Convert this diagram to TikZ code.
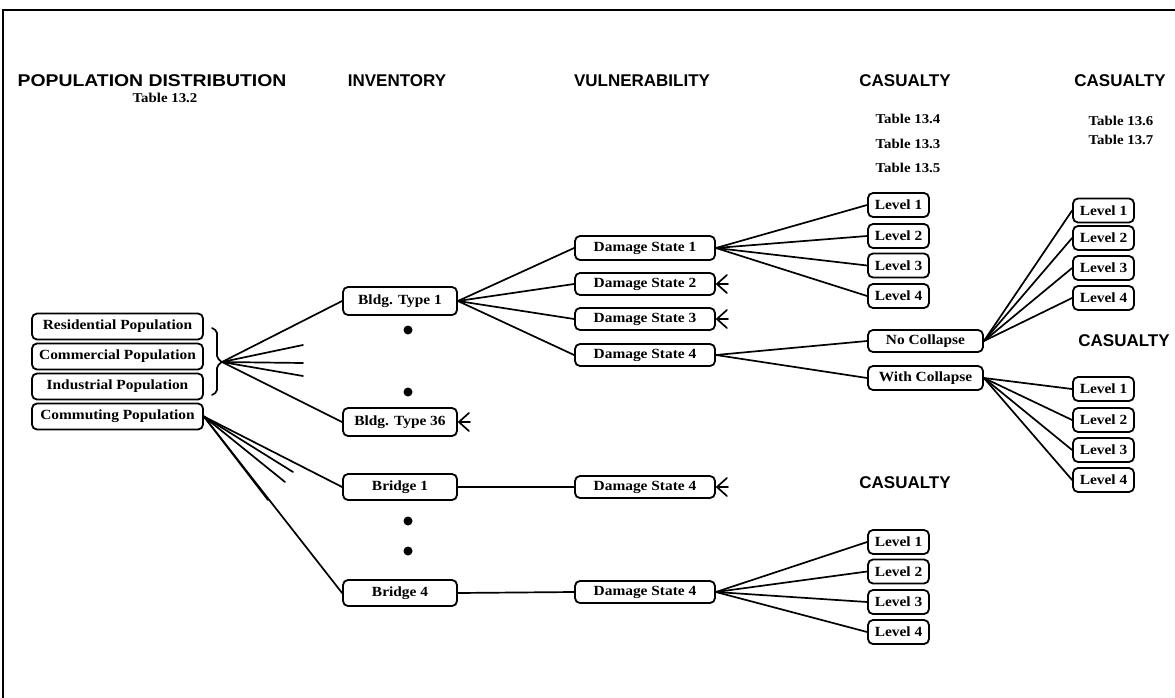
\documentclass[tikz,border=0pt]{standalone}
\usepackage{fontspec}
\setmainfont{Liberation Serif}[FakeStretch=1.1]
\newfontfamily\headfont{Liberation Sans}
\usetikzlibrary{calc}
\tikzset{
  bx/.style={draw, line width=1.8pt, rounded corners=5pt, inner sep=0pt,
    font=\bfseries\fontsize{14}{16}\selectfont},
  lvl/.style={bx, minimum width=61pt, minimum height=24pt},
  dsb/.style={bx, minimum width=140pt, minimum height=22pt},
  bld/.style={bx, minimum width=114pt, minimum height=28pt},
  pop/.style={bx, minimum width=171pt, minimum height=26pt},
  col/.style={bx, minimum width=115pt, minimum height=23pt},
  conn/.style={line width=1.7pt, line cap=round, line join=round},
  head/.style={inner sep=0pt, font=\headfont\bfseries\fontsize{17}{19}\selectfont},
  tbl/.style={inner sep=0pt, font=\bfseries\fontsize{13.5}{15}\selectfont},
  dotc/.style={fill=black, circle, inner sep=0pt, minimum size=9pt}
}
\newcommand\cfoot[1]{\draw[conn] ([xshift=11pt,yshift=9pt]#1.east) -- ([xshift=1pt]#1.east) -- ([xshift=11pt,yshift=-9pt]#1.east) ([xshift=1pt]#1.east) -- ([xshift=12pt]#1.east);}
\begin{document}
\begin{tikzpicture}[x=1pt,y=-1pt]
\useasboundingbox (0,0) rectangle (1175,698);
\draw[line width=2.2pt] (3,698) -- (3,10) -- (1175,10);
% headings
\node[head] (hpop) at (152,81) {\scalebox{1.14}[1]{POPULATION DISTRIBUTION}};
\node[tbl] (t132) at (165,98) {Table 13.2};
\node[head] (hinv) at (397,81) {INVENTORY};
\node[head] (hvul) at (642,81) {VULNERABILITY};
\node[head] (hcas1) at (905,81) {CASUALTY};
\node[head] (hcas2) at (1120,81) {CASUALTY};
\node[tbl] (t134) at (908,119) {Table 13.4};
\node[tbl] (t133) at (908,144) {Table 13.3};
\node[tbl] (t135) at (908,168) {Table 13.5};
\node[tbl] (t136) at (1121,121) {Table 13.6};
\node[tbl] (t137) at (1121,140) {Table 13.7};
\node[head] (hcas3) at (1124,341) {CASUALTY};
\node[head] (hcas4) at (905,483) {CASUALTY};
% population boxes
\node[pop] (res) at (117.5,326.5) {Residential Population};
\node[pop] (com) at (117.5,356.5) {Commercial Population};
\node[pop] (ind) at (117.5,386.5) {Industrial Population};
\node[pop] (cmt) at (117.5,416.5) {Commuting Population};
% bracket
\coordinate (tip) at (222,362);
\draw[conn, rounded corners=2pt] (212,328) -- (217,331) -- (217,358) -- (tip) -- (217,366) -- (217,392) -- (212,395);
% inventory
\node[bld] (b1) at (400,301) {Bldg. Type 1};
\node[bld] (b36) at (400,422) {Bldg. Type 36};
\node[dotc] (d1) at (408,330) {};
\node[dotc] (d2) at (408,392) {};
\node[bld, minimum height=26pt] (br1) at (400,487) {Bridge 1};
\node[bld, minimum height=26pt] (br4) at (400,593) {Bridge 4};
\node[dotc] (d3) at (408,521) {};
\node[dotc] (d4) at (408,551) {};
\coordinate (s1) at (303,345);
\coordinate (s2) at (303,363);
\coordinate (s3) at (303,376);
\draw[conn] (tip) -- (b1.west);
\draw[conn] (tip) -- (s1);
\draw[conn] (tip) -- (s2);
\draw[conn] (tip) -- (s3);
\draw[conn] (tip) -- (b36.west);
\cfoot{b36}
\coordinate (c1) at (293,472);
\coordinate (c2) at (285,482);
\coordinate (c3) at (268,500);
\draw[conn] (cmt.east) -- (br1.west);
\draw[conn] (cmt.east) -- (c1);
\draw[conn] (cmt.east) -- (c2);
\draw[conn] (cmt.east) -- (c3);
\draw[conn] (cmt.east) -- (br4.west);
% vulnerability
\node[dsb, minimum height=24pt] (ds1) at (645,248) {Damage State 1};
\node[dsb] (ds2) at (645,284) {Damage State 2};
\node[dsb] (ds3) at (645,319) {Damage State 3};
\node[dsb] (ds4) at (645,355) {Damage State 4};
\node[dsb] (dsb1) at (645,487) {Damage State 4};
\node[dsb] (dsb4) at (645,592) {Damage State 4};
\foreach \d in {ds1,ds2,ds3,ds4} \draw[conn] (b1.east) -- (\d.west);
\cfoot{ds2}
\cfoot{ds3}
\cfoot{dsb1}
\draw[conn] (br1.east) -- (dsb1.west);
\draw[conn] (br4.east) -- (dsb4.west);
% casualty column 1
\node[lvl] (a1) at (898.5,205) {Level 1};
\node[lvl] (a2) at (898.5,236) {Level 2};
\node[lvl] (a3) at (898.5,265.5) {Level 3};
\node[lvl] (a4) at (898.5,296) {Level 4};
\foreach \l in {a1,a2,a3,a4} \draw[conn] (ds1.east) -- (\l.west);
\node[col, minimum height=22pt] (nc) at (925.5,341) {No Collapse};
\node[col, minimum height=24pt] (wc) at (925.5,378) {With Collapse};
\draw[conn] (ds4.east) -- (nc.west);
\draw[conn] (ds4.east) -- (wc.west);
\node[lvl] (e1) at (898.5,542) {Level 1};
\node[lvl] (e2) at (898.5,571.5) {Level 2};
\node[lvl] (e3) at (898.5,602) {Level 3};
\node[lvl] (e4) at (898.5,632) {Level 4};
\foreach \l in {e1,e2,e3,e4} \draw[conn] (dsb4.east) -- (\l.west);
% casualty column 2
\node[lvl] (n1) at (1103.5,210.5) {Level 1};
\node[lvl] (n2) at (1103.5,238) {Level 2};
\node[lvl] (n3) at (1103.5,268) {Level 3};
\node[lvl] (n4) at (1103.5,298) {Level 4};
\foreach \l in {n1,n2,n3,n4} \draw[conn] (nc.east) -- (\l.west);
\node[lvl] (w1) at (1103.5,389) {Level 1};
\node[lvl] (w2) at (1103.5,420) {Level 2};
\node[lvl] (w3) at (1103.5,450) {Level 3};
\node[lvl] (w4) at (1103.5,480) {Level 4};
\foreach \l in {w1,w2,w3,w4} \draw[conn] (wc.east) -- (\l.west);
\end{tikzpicture}
\end{document}
